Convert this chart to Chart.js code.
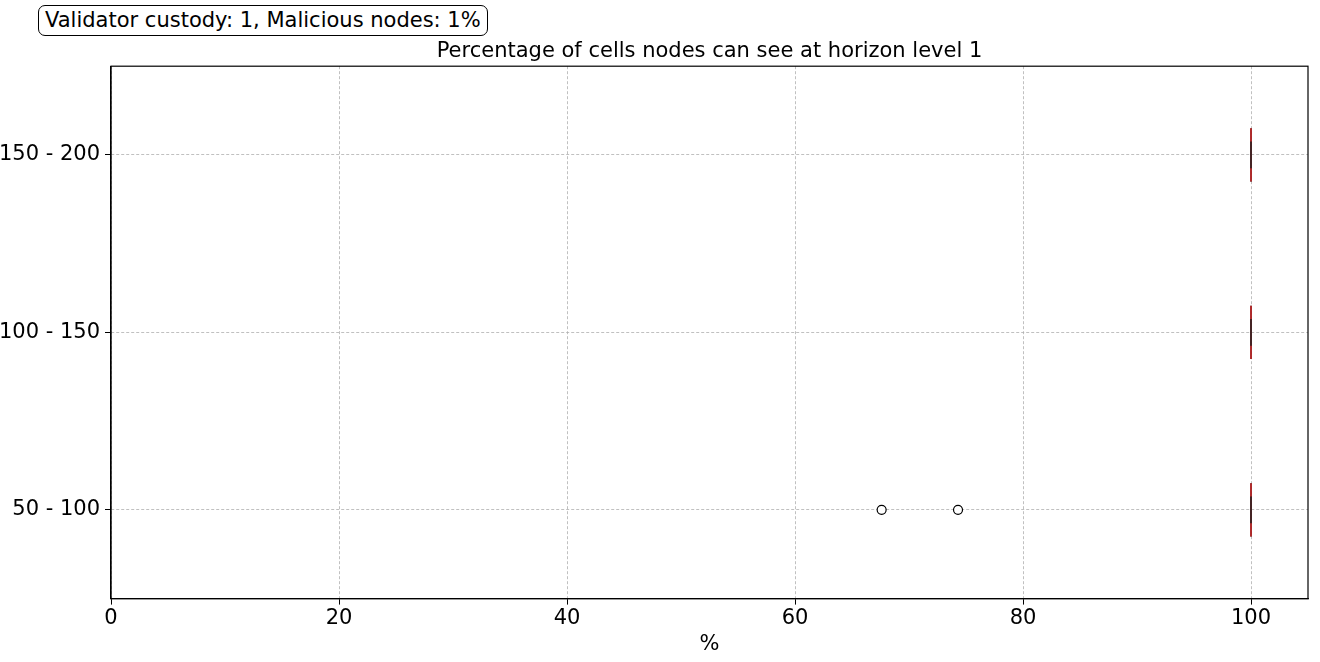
<!DOCTYPE html>
<html>
<head>
<meta charset="utf-8">
<script src="https://cdn.jsdelivr.net/npm/chart.js@4.4.0/dist/chart.umd.min.js"></script>
<style>
  body { margin: 0; background: #fff; }
  #wrap { position: relative; width: 1320px; height: 662px; }
  #nota {
    position: absolute; left: 38px; top: 5px;
    border: 1px solid #000; border-radius: 7px;
    padding: 3px 6px 3px 6px;
    font: 21px "DejaVu Sans", sans-serif; color: #000; background: #fff;
    white-space: nowrap; line-height: 23px;
  }
</style>
</head>
<body>
<div id="wrap">
  <canvas id="grafico" width="1320" height="662"></canvas>
  <div id="nota">Validator custody: 1, Malicious nodes: 1%</div>
</div>
<script>
// faixas (de baixo para cima)
const categorias = ["50 - 100", "100 - 150", "150 - 200"];
const medianas = [100, 100, 100];
const q1 = [100, 100, 100];
const q3 = [100, 100, 100];
const bigodeMin = [100, 100, 100];
const bigodeMax = [100, 100, 100];
const outliers = [[67.6, 74.3], [], []];
const xTicks = [0, 20, 40, 60, 80, 100];

const FONTE = "'DejaVu Sans', sans-serif";
const h = 0.15; // meia altura da caixa
const datasets = [];

categorias.forEach((cat, i) => {
  const y = i + 1;
  // caixa
  datasets.push({
    data: [
      { x: q1[i], y: y - h }, { x: q3[i], y: y - h },
      { x: q3[i], y: y + h }, { x: q1[i], y: y + h }, { x: q1[i], y: y - h }
    ],
    showLine: true, borderColor: "#000", borderWidth: 1, pointRadius: 0, order: 5
  });
  // bigodes
  datasets.push({
    data: [{ x: bigodeMin[i], y: y }, { x: q1[i], y: y }],
    showLine: true, borderColor: "#000", borderWidth: 1, pointRadius: 0, order: 5
  });
  datasets.push({
    data: [{ x: q3[i], y: y }, { x: bigodeMax[i], y: y }],
    showLine: true, borderColor: "#000", borderWidth: 1, pointRadius: 0, order: 5
  });
  // mediana
  datasets.push({
    data: [{ x: medianas[i], y: y - h }, { x: medianas[i], y: y + h }],
    showLine: true, borderColor: "#d62728", borderWidth: 1.5, pointRadius: 0, order: 3
  });
  // caps
  datasets.push({
    data: [{ x: bigodeMin[i], y: y - h / 2 }, { x: bigodeMin[i], y: y + h / 2 }],
    showLine: true, borderColor: "#222", borderWidth: 1, pointRadius: 0, order: 1
  });
  datasets.push({
    data: [{ x: bigodeMax[i], y: y - h / 2 }, { x: bigodeMax[i], y: y + h / 2 }],
    showLine: true, borderColor: "#222", borderWidth: 1, pointRadius: 0, order: 1
  });
  // outliers
  if (outliers[i].length) {
    datasets.push({
      data: outliers[i].map(v => ({ x: v, y: y })),
      showLine: false, pointRadius: 4.5, pointStyle: "circle",
      pointBackgroundColor: "#fff", pointBorderColor: "#000", pointBorderWidth: 1.2, order: 0
    });
  }
});

const molduraPlugin = {
  id: "moldura",
  afterDraw(chart) {
    const { ctx, chartArea: a } = chart;
    ctx.save();
    ctx.strokeStyle = "#000";
    ctx.lineWidth = 1.2;
    ctx.strokeRect(a.left, a.top, a.right - a.left, a.bottom - a.top);
    ctx.restore();
  }
};

new Chart(document.getElementById("grafico").getContext("2d"), {
  type: "scatter",
  data: { datasets },
  plugins: [molduraPlugin],
  options: {
    responsive: false,
    animation: false,
    devicePixelRatio: 1,
    layout: { padding: { top: 39, right: 12, left: 0, bottom: 5 } },
    plugins: {
      legend: { display: false },
      tooltip: { enabled: false },
      title: {
        display: true, fullSize: false,
        text: "Percentage of cells nodes can see at horizon level 1",
        color: "#000", font: { family: FONTE, size: 21, weight: "normal" },
        padding: { top: 0, bottom: 2 }
      }
    },
    scales: {
      x: {
        type: "linear", min: 0, max: 105,
        afterBuildTicks: s => { s.ticks = xTicks.map(v => ({ value: v })); },
        ticks: { color: "#000", font: { family: FONTE, size: 21 }, padding: 1, maxRotation: 0 },
        grid: { color: "#b0b0b0", lineWidth: 0.8, tickColor: "#000", tickLength: 6, tickWidth: 1, tickBorderDash: [] },
        border: { color: "#000", width: 1.2, dash: [3, 2] },
        title: { display: true, text: "%", color: "#000", font: { family: FONTE, size: 21 }, padding: { top: 0, bottom: 0 } }
      },
      y: {
        type: "linear", min: 0.5, max: 3.5,
        afterBuildTicks: s => { s.ticks = categorias.map((c, i) => ({ value: i + 1 })); },
        afterFit: s => { s.width = 111; },
        ticks: {
          color: "#000", font: { family: FONTE, size: 21 }, padding: 5,
          callback: v => categorias[v - 1]
        },
        grid: { color: "#b0b0b0", lineWidth: 0.8, tickColor: "#000", tickLength: 6, tickWidth: 1, tickBorderDash: [] },
        border: { color: "#000", width: 1.2, dash: [3, 2] }
      }
    }
  }
});
</script>
</body>
</html>
